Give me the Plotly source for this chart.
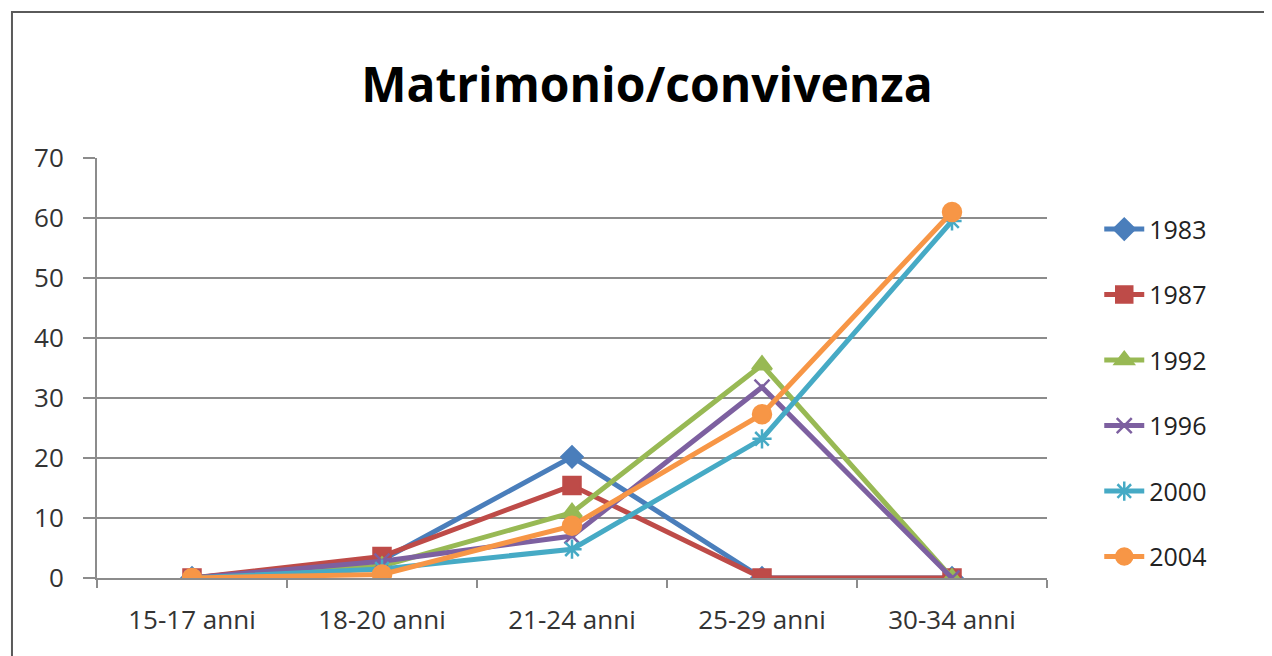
"""Matrimonio/convivenza line chart"""
import plotly.graph_objects as go

AGES = ['15-17 anni', '18-20 anni', '21-24 anni', '25-29 anni', '30-34 anni']

Y1983 = [0, 3, 20.2, 0, 0]
Y1987 = [0, 3.6, 15.4, 0, 0]
Y1992 = [0, 2, 10.9, 35.5, 0]
Y1996 = [0, 2.8, 7, 31.8, 0]
Y2000 = [0, 1.5, 4.8, 23.2, 59.5]
Y2004 = [0, 0.6, 8.7, 27.3, 61]

SERIES = [
    ('1983', Y1983, '#4A7EBB', 'diamond', 16),
    ('1987', Y1987, '#BE4B48', 'square', 17),
    ('1992', Y1992, '#98B954', 'triangle-up', 17),
    ('1996', Y1996, '#7D60A0', 'x-thin-open', 15),
    ('2000', Y2000, '#46AAC5', 'asterisk-open', 16),
    ('2004', Y2004, '#F79646', 'circle', 18),
]

FONT = 'Open Sans'

fig = go.Figure()
for name, vals, col, sym, size in SERIES:
    fig.add_trace(go.Scatter(
        x=AGES, y=vals, name=name, mode='lines+markers',
        legendgroup=name,
        line=dict(color=col, width=5),
        marker=dict(symbol=sym, size=size, color=col,
                    line=dict(color=col, width=2.5)),
    ))

# outer chart border (left/top visible in the original)
fig.add_shape(type='rect', xref='paper', yref='paper',
              x0=-0.0895, x1=1.2326, y0=-0.2, y1=1.3476,
              line=dict(color='#5a5a5a', width=2), layer='below')

fig.update_layout(
    width=1264, height=648,
    margin=dict(l=89, r=225, t=150, b=78),
    paper_bgcolor='white', plot_bgcolor='white',
    font=dict(family=FONT, color='#333333', size=24),
    title=dict(text='<b>Matrimonio/convivenza</b>', x=0.5055, xanchor='center',
               y=0.881, yanchor='middle',
               font=dict(family=FONT, size=48, color='#000000')),
    legend=dict(x=1.055, xanchor='left', y=0.885, yanchor='top',
                font=dict(family=FONT, size=25, color='#222222'),
                tracegroupgap=30, itemwidth=40, bgcolor='rgba(0,0,0,0)'),
    showlegend=True,
)
fig.update_xaxes(
    type='category', showgrid=False, showline=True, linecolor='#8c8c8c',
    linewidth=2, ticks='outside', tickson='boundaries', ticklen=8,
    tickcolor='#8c8c8c', tickwidth=2, range=[-0.5, 4.5],
    ticklabelstandoff=18,
    tickfont=dict(size=26, color='#333333'),
)
fig.update_yaxes(
    range=[0, 70], dtick=10, showgrid=True, gridcolor='#8c8c8c', gridwidth=2,
    showline=True, linecolor='#8c8c8c', linewidth=2, ticks='outside',
    ticklen=12, tickcolor='#8c8c8c', tickwidth=2, zeroline=False,
    ticklabelstandoff=14,
    tickfont=dict(size=26, color='#333333'),
)

fig.write_html("out.html")
